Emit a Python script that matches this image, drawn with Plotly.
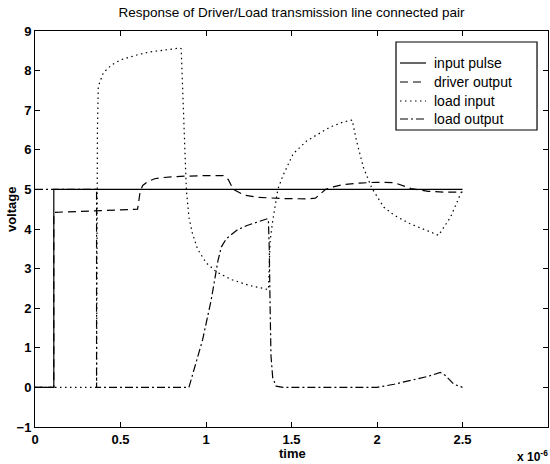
import plotly.graph_objects as go

# time in units of 1e-6 s
t_input = [0, 0.11, 0.11, 2.5]
v_input = [0, 0, 5, 5]

t_driver = [0, 0.11, 0.11, 0.3, 0.6, 0.615, 0.63, 0.66, 0.7, 0.75, 0.85, 1.0, 1.1, 1.13,
            1.16, 1.22, 1.3, 1.45, 1.6, 1.64, 1.67, 1.7, 1.75, 1.8, 1.9, 2.0, 2.1, 2.15,
            2.2, 2.3, 2.4, 2.5]
v_driver = [0, 0, 4.42, 4.45, 4.5, 4.95, 5.1, 5.2, 5.27, 5.3, 5.33, 5.35, 5.35, 5.25,
            5.0, 4.86, 4.8, 4.77, 4.76, 4.78, 4.9, 5.0, 5.07, 5.12, 5.16, 5.18, 5.17, 5.1,
            5.02, 4.95, 4.93, 4.93]

t_load_in = [0, 0.36, 0.365, 0.37, 0.4, 0.45, 0.5, 0.6, 0.67, 0.75, 0.85, 0.855, 0.865,
             0.875, 0.885, 0.9, 0.92, 0.95, 1.0, 1.06, 1.15, 1.25, 1.35, 1.365, 1.375,
             1.39, 1.42, 1.45, 1.51, 1.59, 1.725, 1.8, 1.855, 1.88, 1.92, 1.97, 2.04,
             2.1, 2.19, 2.28, 2.36, 2.43, 2.49, 2.5]
v_load_in = [0, 0, 6.5, 7.6, 7.95, 8.15, 8.27, 8.4, 8.47, 8.52, 8.57, 8.55, 7.5,
             6.0, 5.0, 4.3, 3.9, 3.5, 3.15, 2.92, 2.72, 2.58, 2.47, 2.47, 3.7,
             4.2, 5.0, 5.35, 5.9, 6.23, 6.57, 6.7, 6.75, 6.23, 5.56, 5.03, 4.55,
             4.35, 4.14, 3.98, 3.84, 4.3, 4.9, 5.0]

t_load_out = [0, 0.36, 0.36, 0.9, 0.98, 1.03, 1.07, 1.09, 1.12, 1.18, 1.24, 1.3, 1.36,
              1.365, 1.37, 1.375, 1.38, 1.39, 1.41, 1.45, 1.7, 2.0, 2.1, 2.2, 2.3, 2.37,
              2.4, 2.45, 2.5]
v_load_out = [5, 5, 0, 0, 1.2, 2.2, 3.2, 3.55, 3.76, 3.97, 4.09, 4.18, 4.26,
              4.2, 3.5, 2.0, 0.8, 0.25, 0.03, 0, 0, 0, 0.08, 0.18, 0.28, 0.38,
              0.3, 0.08, 0]

series_names = ["input pulse", "driver output", "load input", "load output"]
x_ticks = [0, 0.5, 1, 1.5, 2, 2.5, 3]
x_labels = ["0", "0.5", "1", "1.5", "2", "2.5", "3"]
y_ticks = [-1, 0, 1, 2, 3, 4, 5, 6, 7, 8, 9]

FONT = "Liberation Sans, Arial, Helvetica, sans-serif"
LW = 1.2
dashes = ["solid", "8px,5px", "1.5px,3.5px", "8px,3px,2px,3px"]
data = [(t_input, v_input), (t_driver, v_driver), (t_load_in, v_load_in),
        (t_load_out, v_load_out)]

fig = go.Figure()
for name, (tx, vy), dsh in zip(series_names, data, dashes):
    fig.add_trace(go.Scatter(x=tx, y=vy, mode="lines", name=name, showlegend=False,
                             line=dict(color="black", width=LW, dash=dsh)))

axis_common = dict(showline=True, linecolor="black", linewidth=1, mirror="ticks",
                   ticks="inside", ticklen=5, tickcolor="black", showgrid=False,
                   zeroline=False,
                   tickfont=dict(family=FONT, size=13, color="black", weight="bold"))

fig.update_layout(
    width=550, height=464,
    margin=dict(l=35, r=2, t=31, b=37),
    paper_bgcolor="white", plot_bgcolor="white",
    font=dict(family=FONT, color="black"),
    title=dict(text="Response of Driver/Load transmission line connected pair",
               x=0.53, xanchor="center", y=0.974, yanchor="middle",
               font=dict(family=FONT, size=13.5, color="black")),
    xaxis=dict(range=[0, 3], tickvals=x_ticks, ticktext=x_labels, **axis_common),
    yaxis=dict(range=[-1, 9], tickvals=y_ticks, **axis_common),
    showlegend=False,
)

# legend box (drawn by hand to match the reference layout)
fig.add_shape(type="rect", xref="paper", yref="paper", x0=0.7037, x1=0.9786,
              y0=0.75, y1=0.9722, line=dict(color="black", width=1.2),
              fillcolor="white", layer="above")
row_y = [0.9192, 0.8712, 0.8232, 0.7778]
for name, dsh, ry in zip(series_names, dashes, row_y):
    fig.add_shape(type="line", xref="paper", yref="paper", x0=0.7115, x1=0.7622,
                  y0=ry, y1=ry, line=dict(color="black", width=LW, dash=dsh),
                  layer="above")
    fig.add_annotation(text=name, xref="paper", yref="paper", x=0.7739, y=ry,
                       xanchor="left", yanchor="middle", showarrow=False,
                       font=dict(family=FONT, size=14, color="black"))

fig.add_annotation(text="time", xref="paper", yref="paper", x=0.502, y=-0.066,
                   xanchor="center", yanchor="middle", showarrow=False,
                   font=dict(family=FONT, size=13, color="black", weight="bold"))
fig.add_annotation(text="voltage", xref="paper", yref="paper", x=-0.047, y=0.55,
                   xanchor="center", yanchor="middle", showarrow=False, textangle=-90,
                   font=dict(family=FONT, size=13, color="black", weight="bold"))
fig.add_annotation(text="x 10<sup>-6</sup>", xref="paper", yref="paper", x=1.003, y=-0.073,
                   xanchor="right", yanchor="middle", showarrow=False,
                   font=dict(family=FONT, size=12, color="black", weight="bold"))

fig.write_html("out.html")
